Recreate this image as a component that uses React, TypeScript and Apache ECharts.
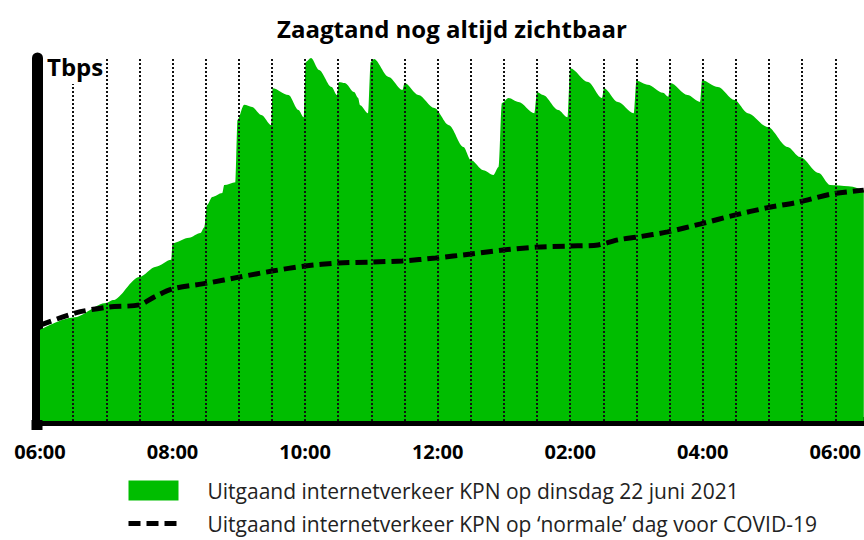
import React, { useEffect, useRef } from "react";
import * as echarts from "echarts";

const TITLE = "Zaagtand nog altijd zichtbaar";
const UNIT = "Tbps";
const SERIES_2021 = "Uitgaand internetverkeer KPN op dinsdag 22 juni 2021";
const SERIES_NORMAL = "Uitgaand internetverkeer KPN op \u2018normale\u2019 dag voor COVID-19";

// hours of the day (decimal) and traffic (relative Tbps scale)
const traffic2021: [number, number][] = [
  [6.0, 25.1], [6.5, 28.5], [7.0, 32.5], [7.1, 33.3], [7.5, 39.7], [7.75, 42.5], [7.98, 44.4],
  [8.0, 49.0], [8.25, 50.5], [8.42, 51.8], [8.48, 53.4], [8.52, 59.5], [8.6, 61.7], [8.75, 62.8],
  [8.78, 65.0], [8.95, 65.8], [8.98, 82.9], [9.08, 87.1], [9.2, 86.5], [9.34, 84.3], [9.49, 81.5],
  [9.51, 91.7], [9.75, 89.8], [9.9, 85.7], [9.98, 83.7], [10.01, 98.9], [10.09, 100], [10.21, 96.7],
  [10.4, 92.0], [10.48, 89.8], [10.51, 93.4], [10.6, 93.1], [10.74, 90.6], [10.8, 89.0], [10.83, 87.0],
  [10.95, 84.8], [10.99, 98.9], [11.04, 99.7], [11.26, 94.8], [11.47, 91.2], [11.5, 93.1], [11.71, 89.8],
  [11.95, 86.2], [12.17, 81.5], [12.39, 75.5], [12.5, 71.9], [12.69, 69.1], [12.84, 67.8], [12.92, 70.0],
  [12.97, 87.6], [13.07, 89.0], [13.22, 87.9], [13.46, 84.8], [13.5, 90.6], [13.59, 89.8], [13.82, 85.7],
  [13.96, 83.7], [14.0, 97.2], [14.27, 93.4], [14.48, 89.0], [14.51, 91.7], [14.72, 87.9], [14.96, 84.8],
  [15.0, 93.7], [15.17, 92.6], [15.4, 90.4], [15.48, 89.3], [15.51, 93.1], [15.77, 89.8], [15.96, 87.9],
  [15.99, 93.9], [16.23, 92.0], [16.48, 88.4], [16.68, 84.8], [16.98, 81.0], [17.28, 75.5], [17.47, 72.7],
  [17.75, 68.3], [17.92, 65.0], [18.2, 64.7], [18.43, 63.6],
];

const trafficNormal: [number, number][] = [
  [6.0, 26.4], [6.54, 29.8], [7.04, 31.4], [7.5, 32.0], [7.73, 34.2], [8.0, 36.4], [8.53, 38.0],
  [9.02, 39.7], [9.5, 41.3], [10.0, 42.7], [10.5, 43.5], [11.01, 43.8], [11.47, 44.1], [11.97, 44.9],
  [12.5, 46.0], [12.99, 47.1], [13.49, 47.9], [13.98, 48.2], [14.42, 48.5], [14.72, 49.9], [15.02, 50.7],
  [15.47, 52.1], [15.97, 54.3], [16.48, 56.7], [16.96, 58.7], [17.44, 60.3], [17.94, 62.5], [18.43, 63.6],
];

const xTickHours = [6, 8, 10, 12, 14, 16, 18];
const xTickLabels = ["06:00", "08:00", "10:00", "12:00", "02:00", "04:00", "06:00"];

const halfHourLines = [
  6.5, 7, 7.5, 8, 8.5, 9, 9.5, 10, 10.5, 11, 11.5, 12,
  12.5, 13, 13.5, 14, 14.5, 15, 15.5, 16, 16.5, 17, 17.5, 18,
];

const X_MIN = 6;
const X_MAX = 18.43;
const FONT = "'Open Sans', 'Noto Sans', sans-serif";
const GREEN = "#00bd00";

export default function App() {
  const ref = useRef<HTMLDivElement>(null);

  useEffect(() => {
    if (!ref.current) return;
    const chart = echarts.init(ref.current, null, { renderer: "svg" });
    const option: any = {
      animation: false,
      backgroundColor: "#fff",
      textStyle: { fontFamily: FONT },
      title: {
        text: TITLE,
        left: 447,
        textAlign: "center",
        top: 11,
        textStyle: { fontFamily: FONT, fontWeight: "bold", fontSize: 24, color: "#000" },
      },
      grid: { left: 40, right: 0, top: 58, bottom: 119, containLabel: false },
      xAxis: {
        type: "value",
        min: X_MIN,
        max: X_MAX,
        interval: 2,
        offset: 4.5,
        axisLine: { show: true, lineStyle: { color: "#000", width: 9 } },
        axisTick: { show: false },
        splitLine: { show: false },
        axisLabel: {
          margin: 16,
          showMaxLabel: false,
          fontFamily: FONT,
          fontWeight: "bold",
          fontSize: 20,
          color: "#000",
          formatter: (v: number) => {
            const i = xTickHours.indexOf(Math.round(v));
            return i >= 0 ? xTickLabels[i] : "";
          },
        },
      },
      yAxis: {
        type: "value",
        min: 0,
        max: 100,
        offset: 3,
        axisLine: { show: true, lineStyle: { color: "#000", width: 11 } },
        axisTick: { show: false },
        axisLabel: { show: false },
        splitLine: { show: false },
      },
      legend: {
        orient: "vertical",
        left: 126,
        top: 480,
        itemWidth: 50,
        itemHeight: 20,
        itemGap: 12,
        padding: 0,
        data: [
          { name: SERIES_2021, icon: "rect" },
          {
            name: SERIES_NORMAL,
            itemStyle: { opacity: 0 },
            lineStyle: { width: 5, color: "#000", type: [12, 6], cap: "butt" },
          },
        ],
        textStyle: { fontFamily: FONT, fontSize: 21, color: "#222", padding: [0, 0, 0, 24] },
      },
      graphic: [
        {
          type: "rect",
          z: 100,
          shape: { x: 31.5, y: 420, width: 11, height: 10 },
          style: { fill: "#000" },
        },
        {
          type: "text",
          z: 100,
          left: 45,
          top: 54,
          style: {
            text: UNIT,
            font: `bold 24px ${FONT}`,
            fill: "#000",
            backgroundColor: "#fff",
            padding: [0, 2, 6, 2],
          },
        },
      ],
      series: [
        {
          name: SERIES_2021,
          type: "line",
          z: 2,
          data: traffic2021,
          color: GREEN,
          smooth: 0.3,
          smoothMonotone: "x",
          showSymbol: false,
          symbol: "none",
          lineStyle: { width: 0, color: GREEN },
          areaStyle: { color: GREEN, opacity: 1 },
          silent: true,
        },
        {
          name: "gridlines",
          type: "line",
          z: 3,
          data: [],
          silent: true,
          markLine: {
            silent: true,
            symbol: ["none", "none"],
            label: { show: false },
            lineStyle: { color: "#111", width: 2, type: [2, 2] },
            data: halfHourLines.map((h) => ({ xAxis: h })),
          },
        },
        {
          name: SERIES_NORMAL,
          type: "line",
          z: 4,
          data: trafficNormal,
          color: "#000",
          smooth: 0.3,
          showSymbol: false,
          symbol: "none",
          lineStyle: { width: 5, color: "#000", type: [12, 6], cap: "butt" },
          silent: true,
        },
      ],
    };
    chart.setOption(option);
    return () => chart.dispose();
  }, []);

  return (
    <div
      ref={ref}
      style={{ position: "fixed", left: 0, top: 0, width: 864, height: 540 }}
    />
  );
}
